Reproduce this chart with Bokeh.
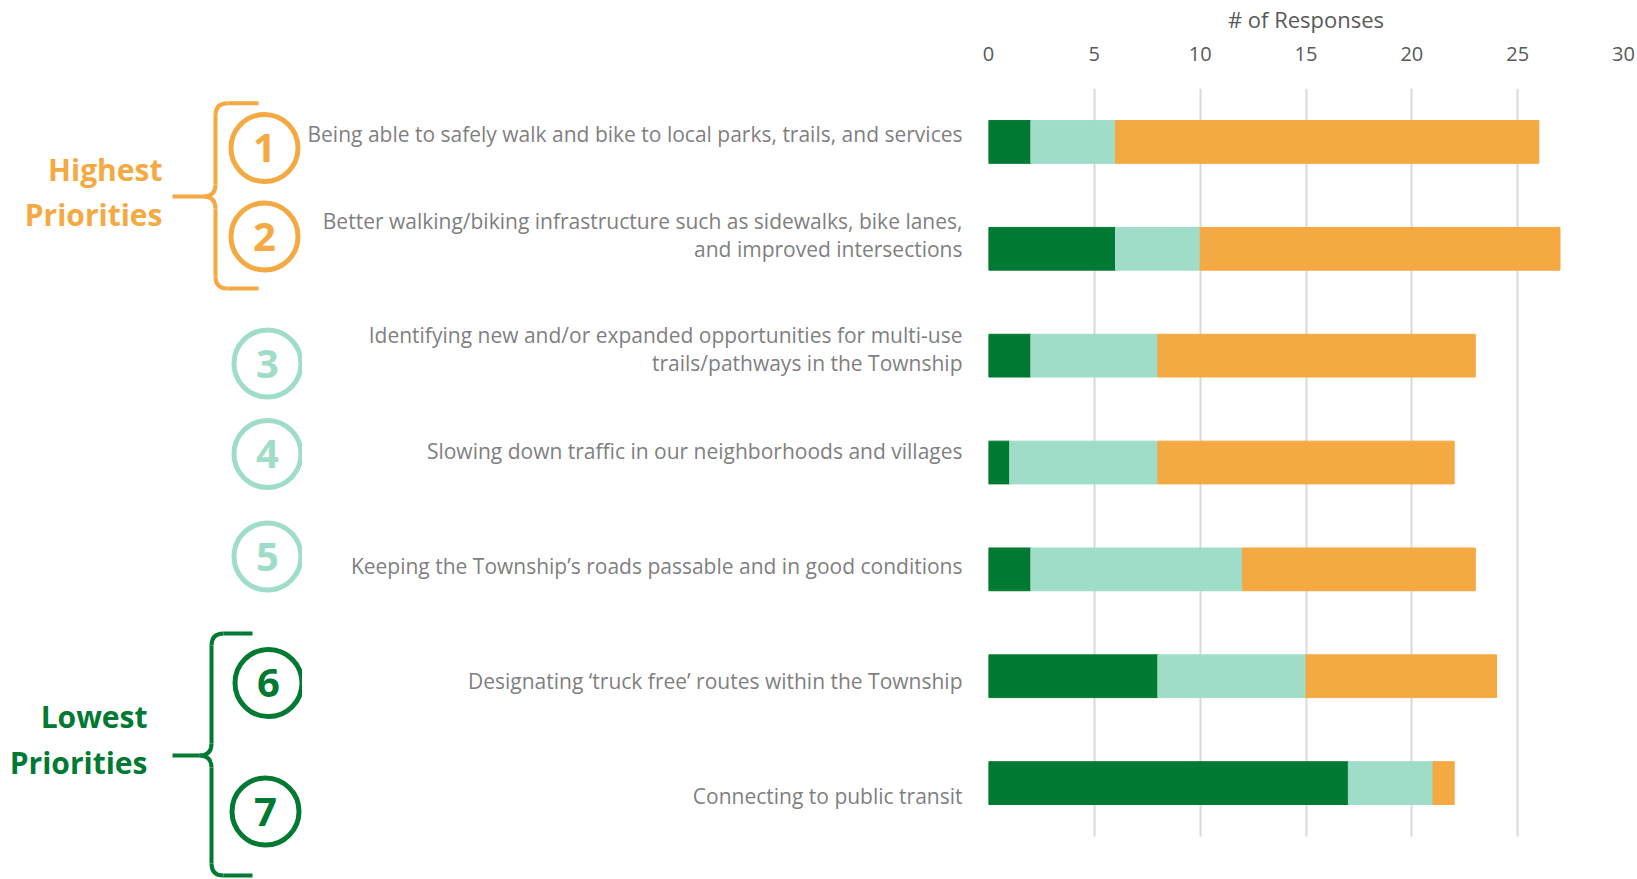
from bokeh.plotting import figure
from bokeh.models import Range1d, FixedTicker, ColumnDataSource
from bokeh.layouts import row
from bokeh.embed import file_html
from bokeh.resources import INLINE
from bokeh.core.properties import value

# ---------------- data ----------------
categories = [
    "Being able to safely walk and bike to local parks, trails, and services",
    "Better walking/biking infrastructure such as sidewalks, bike lanes,\nand improved intersections",
    "Identifying new and/or expanded opportunities for multi-use\ntrails/pathways in the Township",
    "Slowing down traffic in our neighborhoods and villages",
    "Keeping the Township\u2019s roads passable and in good conditions",
    "Designating \u2018truck free\u2019 routes within the Township",
    "Connecting to public transit",
]
low_priority = [2, 6, 2, 1, 2, 8, 17]
medium_priority = [4, 4, 6, 7, 10, 7, 4]
high_priority = [20, 17, 15, 14, 11, 9, 1]
x_ticks = [0, 5, 10, 15, 20, 25, 30]
ranks = ["1", "2", "3", "4", "5", "6", "7"]
group_titles = ["Highest\nPriorities", "Lowest\nPriorities"]

# ---------------- styles ----------------
ORANGE = "#F5A942"
LIGHT = "#A0DDC8"
DARK = "#007A33"
AXIS_GRAY = "#595959"
LABEL_GRAY = "#7F7F7F"
GRID_GRAY = "#D9D9D9"
FONT = "Open Sans"

W, H = 1637, 879
LW = 302
RW = W - LW
TOP = 88            # frame top in page pixels
ROW_PX = 106.86     # pixel height of one category band
# small vertical nudges (px) of the category text boxes, as in the original layout
label_nudge_px = [-7.5, -14, -6.5, -12, -3.5, 5, 13]

# category positions (row index, first category at top)
ypos = list(range(len(categories)))
label_pos = [round(i + d / ROW_PX, 4) for i, d in zip(ypos, label_nudge_px)]
y_bottom = -0.5 + (H - TOP) / ROW_PX

# ---------------- left decoration panel (data coords = page pixels) ----------------
left = figure(width=LW, height=H, x_range=Range1d(0, LW), y_range=Range1d(H, TOP),
              output_backend="svg", toolbar_location=None,
              min_border_left=0, min_border_right=0,
              min_border_top=TOP, min_border_bottom=0,
              x_axis_location=None, y_axis_location=None, outline_line_color=None)
left.xgrid.visible = False
left.ygrid.visible = False

rank_colors = [ORANGE, ORANGE, LIGHT, LIGHT, LIGHT, DARK, DARK]
circle_x = [264, 264, 267, 267, 267, 268, 265]
circle_y = [147.5, 236, 363, 453.5, 556, 682.5, 811]
left.circle(x=circle_x, y=circle_y, radius=33.5, fill_color=None,
            line_color=rank_colors, line_width=5)
left.text(x=circle_x, y=circle_y, text=ranks, text_font=value(FONT), text_font_style="bold",
          text_font_size="40px", text_color=rank_colors, text_align="center",
          text_baseline="middle")

left.text(x=[162, 147], y=[191.5, 739], text=group_titles, text_font=value(FONT),
          text_font_style="bold", text_font_size="30px", text_color=[ORANGE, DARK],
          text_align="right", text_baseline="middle", text_line_height=1.1)


def brace(fig, xr, xv, xt, y0, ym, y1, color, r=12):
    fig.multi_line(
        xs=[[xr, xv + r], [xv, xv], [xv - r, xt], [xv, xv], [xv + r, xr]],
        ys=[[y0, y0], [y0 + r, ym - r], [ym, ym], [ym + r, y1 - r], [y1, y1]],
        line_color=color, line_width=4)
    fig.quadratic(x0=[xv + r, xv, xv - r, xv], y0=[y0, ym - r, ym, y1 - r],
                  x1=[xv, xv - r, xv, xv + r], y1=[y0 + r, ym, ym + r, y1],
                  cx=[xv, xv, xv, xv], cy=[y0, ym, ym, y1],
                  line_color=color, line_width=4)


brace(left, 258, 215, 172, 102.7, 196, 288, ORANGE)
brace(left, 252, 211, 172, 633, 755, 875, DARK)

# ---------------- chart ----------------
src = ColumnDataSource(dict(ypos=ypos, low=low_priority,
                            medium=medium_priority, high=high_priority))

p = figure(width=RW, height=H, x_range=Range1d(0, 30), y_range=Range1d(y_bottom, -0.5),
           x_axis_location="above",
           output_backend="svg", toolbar_location=None,
           min_border_left=988 - LW, min_border_right=14, min_border_top=TOP, min_border_bottom=0,
           outline_line_color=None)

p.hbar_stack(["low", "medium", "high"], y="ypos", height=0.4,
             color=[DARK, LIGHT, ORANGE], source=src)

ticker = FixedTicker(ticks=x_ticks)
p.xaxis.ticker = ticker
p.xgrid.ticker = ticker
p.xaxis.axis_label = "# of Responses"
p.xaxis.axis_label_text_font = FONT
p.xaxis.axis_label_text_font_style = "normal"
p.xaxis.axis_label_text_font_size = "22px"
p.xaxis.axis_label_text_color = AXIS_GRAY
p.xaxis.axis_label_standoff = 10
p.xaxis.major_label_text_font = FONT
p.xaxis.major_label_text_font_size = "20px"
p.xaxis.major_label_text_color = AXIS_GRAY
p.xaxis.major_label_standoff = 22
p.xaxis.axis_line_color = None
p.xaxis.major_tick_line_color = None
p.xaxis.minor_tick_line_color = None

p.yaxis.ticker = FixedTicker(ticks=label_pos)
p.yaxis.major_label_overrides = {pos: lab for pos, lab in zip(label_pos, categories)}
p.yaxis.major_label_text_font = FONT
p.yaxis.major_label_text_font_size = "21px"
p.yaxis.major_label_text_color = LABEL_GRAY
p.yaxis.major_label_text_line_height = 0.98
p.yaxis.major_label_standoff = 20
p.yaxis.axis_line_color = None
p.yaxis.major_tick_line_color = None
p.yaxis.minor_tick_line_color = None

p.xgrid.grid_line_color = GRID_GRAY
p.xgrid.grid_line_width = 2
p.xgrid.cross_bounds = (-0.5, len(categories) - 0.5)
p.ygrid.grid_line_color = None

layout = row(left, p, spacing=0)
open("out.html", "w").write(file_html(layout, INLINE))
